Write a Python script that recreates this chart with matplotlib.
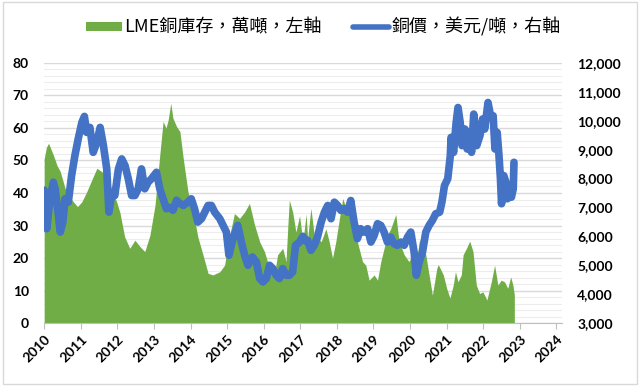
import matplotlib
matplotlib.use('Agg')
import matplotlib.pyplot as plt
from matplotlib.patches import Rectangle, Patch
from matplotlib.lines import Line2D
from matplotlib.ticker import FuncFormatter, MultipleLocator

# LME copper stocks (10k tonnes), left axis
stock_t = [2010.0, 2010.06, 2010.12, 2010.25, 2010.35, 2010.44, 2010.57, 2010.71, 2010.91,
           2011.03, 2011.16, 2011.3, 2011.44, 2011.57, 2011.71, 2011.85, 2011.98,
           2012.07, 2012.2, 2012.34, 2012.48, 2012.62, 2012.75, 2012.89,
           2013.03, 2013.16, 2013.25, 2013.33, 2013.39, 2013.46, 2013.52, 2013.62, 2013.71, 2013.8, 2013.93,
           2014.07, 2014.2, 2014.34, 2014.48, 2014.61, 2014.8, 2014.93,
           2015.07, 2015.2, 2015.34, 2015.48, 2015.61, 2015.75, 2015.89,
           2016.02, 2016.16, 2016.29, 2016.38, 2016.52, 2016.61, 2016.66, 2016.7, 2016.79, 2016.88, 2016.98,
           2017.07, 2017.16, 2017.2, 2017.29, 2017.38, 2017.47, 2017.57, 2017.7, 2017.79, 2017.88, 2017.97,
           2018.07, 2018.16, 2018.25, 2018.34, 2018.43, 2018.56, 2018.7, 2018.79, 2018.88,
           2019.02, 2019.11, 2019.2, 2019.29, 2019.38, 2019.47, 2019.61, 2019.7, 2019.84, 2019.97,
           2020.06, 2020.15, 2020.25, 2020.34, 2020.43, 2020.52, 2020.61, 2020.66, 2020.73, 2020.77, 2020.91,
           2021.0, 2021.09, 2021.18, 2021.24, 2021.31, 2021.4, 2021.45, 2021.54, 2021.63, 2021.72, 2021.81, 2021.9, 2021.99,
           2022.1, 2022.22, 2022.31, 2022.4, 2022.49, 2022.58, 2022.67, 2022.75, 2022.81, 2022.85]
stock_v = [50.5, 54, 55.3, 51.7, 48.5, 46.6, 41.5, 38.5, 35.8,
           37.3, 40.3, 44, 47.6, 46.6, 45.5, 41, 37.3,
           34, 26.5, 23, 25.5, 23.5, 22, 27,
           36.3, 51.7, 62, 60, 62.5, 67.6, 63, 60.4, 58.9, 50.7, 40.4,
           34.2, 26.5, 21, 15.3, 14.8, 15.8, 17.8,
           27, 33.7, 32.2, 34.2, 36.8, 30.2, 25,
           22, 16.8, 14.8, 21, 23, 18.9, 30, 37.8, 34.2, 28, 33,
           25, 33.5, 26, 35.3, 27, 26.5, 25, 29, 25, 20, 25,
           32.2, 38.3, 35.4, 37.3, 31.2, 25, 18.9, 17.8, 13.2,
           14.8, 13.2, 18.9, 23, 27, 29, 33.4, 25, 21, 18.9,
           21, 17, 25, 27, 21, 14.8, 8.6, 12, 16.8, 18, 14.8,
           10.7, 7.7, 11.7, 15.8, 12.7, 14.8, 21, 23, 25.2, 22, 11.7, 9.1, 9.6,
           7.1, 12.7, 17.8, 11.7, 13.2, 12.7, 10.7, 14.2, 11.7, 8.6]

# copper price (USD/tonne), right axis
price_t = [2010.0, 2010.07, 2010.16, 2010.25, 2010.3, 2010.39, 2010.44, 2010.51, 2010.57, 2010.66, 2010.75,
           2010.84, 2010.93, 2011.03, 2011.1, 2011.16, 2011.25, 2011.34, 2011.44, 2011.53, 2011.62, 2011.71,
           2011.77, 2011.84, 2011.93, 2012.03, 2012.12, 2012.21, 2012.3, 2012.39, 2012.48, 2012.57, 2012.66,
           2012.75, 2012.84, 2012.93, 2013.07, 2013.16, 2013.25, 2013.34, 2013.43, 2013.52, 2013.62, 2013.66,
           2013.8, 2013.93, 2014.02, 2014.11, 2014.2, 2014.3, 2014.39, 2014.48, 2014.57, 2014.66, 2014.8,
           2014.89, 2014.98, 2015.05, 2015.16, 2015.29, 2015.39, 2015.48, 2015.57, 2015.69, 2015.8, 2015.89,
           2015.98, 2016.07, 2016.16, 2016.25, 2016.34, 2016.43, 2016.52, 2016.61, 2016.7, 2016.79, 2016.87,
           2016.98, 2017.07, 2017.16, 2017.2, 2017.29, 2017.38, 2017.47, 2017.57, 2017.66, 2017.75, 2017.84,
           2017.93, 2018.02, 2018.11, 2018.2, 2018.29, 2018.38, 2018.47, 2018.56, 2018.65, 2018.74, 2018.84,
           2018.93, 2019.02, 2019.11, 2019.2, 2019.29, 2019.38, 2019.47, 2019.56, 2019.65, 2019.75, 2019.84,
           2019.93, 2020.02, 2020.11, 2020.17, 2020.25, 2020.34, 2020.43, 2020.52, 2020.61, 2020.7, 2020.81,
           2020.87, 2020.94, 2021.03, 2021.1, 2021.12, 2021.19, 2021.26, 2021.31, 2021.37, 2021.42, 2021.5,
           2021.56, 2021.62, 2021.68, 2021.74, 2021.82, 2021.91, 2021.98, 2022.04, 2022.13, 2022.2, 2022.27,
           2022.32, 2022.38, 2022.43, 2022.47, 2022.5, 2022.56, 2022.62, 2022.66, 2022.71, 2022.77, 2022.82, 2022.84]
price_v = [7600, 6265, 7300, 7872, 7645, 6724, 6150, 6493, 7300, 7183, 8103,
           8793, 9368, 9941, 10150, 9597, 9770, 8907, 9252, 9770, 9138, 8334,
           6838, 7413, 7413, 8334, 8679, 8448, 7990, 7413, 7413, 7645, 8334,
           7645, 7872, 7990, 8217, 7645, 7300, 6955, 7000, 6900, 7250, 7183,
           7069, 7183, 7300, 6955, 6493, 6610, 6838, 7069, 7069, 6838, 6610,
           6379, 6148, 5345, 5920, 6379, 5803, 5345, 5000, 5286, 5114, 4541,
           4424, 4541, 5000, 4886, 4655, 4541, 4886, 4655, 4655, 4769, 5690,
           5803, 6000, 5830, 5862, 5517, 5690, 5976, 6493, 6838, 7069, 6610,
           7183, 7069, 6896, 6955, 6838, 7241, 6493, 5920, 6265, 6148, 6265,
           5803, 6034, 6438, 6379, 6148, 5803, 5976, 5748, 5690, 5803, 5690,
           5976, 6148, 5459, 4655, 5114, 5459, 6148, 6379, 6550, 6780, 6838,
           7183, 7758, 7990, 8793, 9424, 8907, 9941, 10458, 9941, 9138, 9712,
           9022, 9597, 8907, 10230, 9138, 9483, 10057, 9712, 10631, 10172, 10172,
           9022, 9597, 8793, 7990, 7127, 8103, 7872, 7300, 7645, 7355, 7645, 8562]

years = list(range(2010, 2025))
stock_label = 'LME銅庫存，萬噸，左軸'
price_label = '銅價，美元/噸，右軸'

green = '#70AD47'
blue = '#4472C4'
tick_font = dict(family='Lato', weight='bold', size=10)

fig = plt.figure(figsize=(6.4, 3.86), dpi=100)
ax = fig.add_axes([0.069, 0.163, 0.809, 0.674])
ax2 = ax.twinx()

ax.fill_between(stock_t, stock_v, 0, color=green, lw=0)
ax2.plot(price_t, price_v, color=blue, lw=5.5, solid_joinstyle='round', solid_capstyle='round')

ax.set_xlim(2010, 2024.15)
ax.set_ylim(0, 80)
ax2.set_ylim(3000, 12000)

# gridlines: major every 10, minor every 2
ax.yaxis.set_major_locator(MultipleLocator(10))
ax.yaxis.set_minor_locator(MultipleLocator(2))
ax.grid(axis='y', which='major', color='#D9D9D9', lw=1)
ax.grid(axis='y', which='minor', color='#EDEDED', lw=0.8)
ax.set_axisbelow(True)
ax2.yaxis.set_major_locator(MultipleLocator(1000))
ax2.yaxis.set_major_formatter(FuncFormatter(lambda v, p: f'{int(v):,}'))

for a in (ax, ax2):
    for s in a.spines.values():
        s.set_visible(False)
ax.spines['bottom'].set_visible(True)
ax.spines['bottom'].set_color('#BFBFBF')

ax.set_xticks(years)
ax.set_xticklabels([str(y) for y in years], rotation=45, ha='right', rotation_mode='anchor', **tick_font)
ax.tick_params(axis='x', length=4, color='#BFBFBF', pad=3)
ax.tick_params(axis='y', which='both', length=0, pad=11)
ax2.tick_params(axis='y', length=0, pad=11)
for lbl in ax.get_yticklabels() + ax2.get_yticklabels():
    lbl.set_fontproperties(matplotlib.font_manager.FontProperties(**tick_font))

handles = [Patch(facecolor=green, edgecolor='none'),
           Line2D([0], [0], color=blue, lw=4, solid_capstyle='round')]
fig.legend(handles, [stock_label, price_label], loc='center', bbox_to_anchor=(0.505, 0.93),
           ncol=2, frameon=False, handlelength=2.0, handleheight=0.4, handletextpad=0.15,
           columnspacing=1.7, prop=dict(family=['Noto Sans CJK TC', 'DejaVu Sans'], size=13))

# light border around the whole chart
fig.patches.append(Rectangle((0.004, 0.006), 0.992, 0.988, transform=fig.transFigure,
                             fill=False, edgecolor='#D9D9D9', lw=1))

plt.savefig('out.png', dpi=100)
plt.close()
